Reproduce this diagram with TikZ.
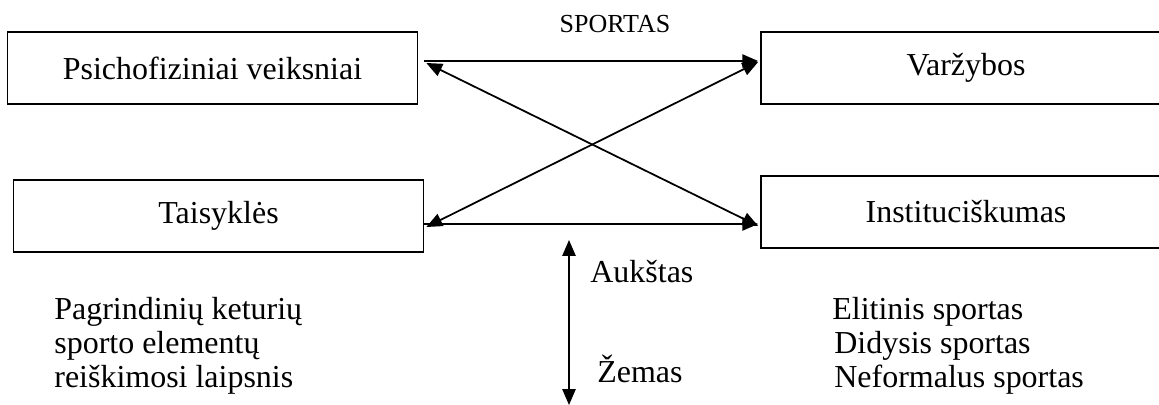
\documentclass[tikz,border=0pt]{standalone}
\usepackage{fontspec}
\setmainfont{Liberation Serif}
\usepackage{tikz}
\usetikzlibrary{positioning}
\usetikzlibrary{calc,arrows.meta}

\tikzset{
	element/.style={draw, line width=1pt, minimum width=8.2cm, minimum height=1.44cm,
		inner sep=0pt, font=\fontsize{18.2}{22}\selectfont},
	tag/.style={anchor=base west, inner sep=0pt, font=\fontsize{18.2}{22}\selectfont},
	link/.style={line width=1pt, -{Triangle[length=9pt,width=7.5pt]}},
	twolink/.style={line width=1pt, {Triangle[length=9pt,width=7.5pt]}-{Triangle[length=9pt,width=7.5pt]}}
}

\begin{document}
\begin{tikzpicture}[x=0.02cm, y=-0.02cm]
	
	\useasboundingbox (0,0) rectangle (1159,405);
	\clip (0,0) rectangle (1159,405);
	
	% The four elements of sport, the right column runs past the edge
	\node[element] (P) at (212.5,68)  {Psichofiziniai veiksniai};
	\node[element] (T) at (218.5,216) {Taisyklės};
	\node[element] (V) at (966,68)    {Varžybos};
	\node[element] (I) at (966,212)   {Instituciškumas};
	
	\node[font=\fontsize{14.8}{18}\selectfont, anchor=base, inner sep=0pt] (S) at (615,33) {SPORTAS};
	
	% End points of the links, offset from the box sides
	\coordinate (Ptop) at ($(P.east)+(6,-7)$);
	\coordinate (Pdia) at ($(P.east)+(8,-5)$);
	\coordinate (Vtop) at ($(V.west)+(-2,-7)$);
	\coordinate (Vdia) at ($(V.west)+(-2,-6)$);
	\coordinate (Tbot) at ($(T.east)+(0,8)$);
	\coordinate (Tdia) at ($(T.east)+(2,11)$);
	\coordinate (Ibot) at ($(I.west)+(-2,12)$);
	\coordinate (Idia) at ($(I.west)+(-2,14)$);
	
	\draw[link]    (Ptop) -- (Vtop);
	\draw[link]    (Tbot) -- (Ibot);
	\draw[twolink] (Pdia) -- (Idia);
	\draw[twolink] (Vdia) -- (Tdia);
	
	% Scale from high to low
	\coordinate (hi) at (569,240);
	\coordinate (lo) at (569,405);
	\draw[twolink] (hi) -- (lo);
	\node[tag] (aukstas) at (590,282) {Aukštas};
	\node[tag] (zemas)   at (597,382) {Žemas};
	
	% Left caption
	\node[tag] (L1) at (54,319) {Pagrindinių keturių};
	\node[tag] (L2) at (54,353) {sporto elementų};
	\node[tag] (L3) at (54,387) {reiškimosi laipsnis};
	
	% Kinds of sport
	\node[tag] (R1) at (832,319) {Elitinis sportas};
	\node[tag] (R2) at (834,353) {Didysis sportas};
	\node[tag] (R3) at (834,387) {Neformalus sportas};
	
\end{tikzpicture}
\end{document}
